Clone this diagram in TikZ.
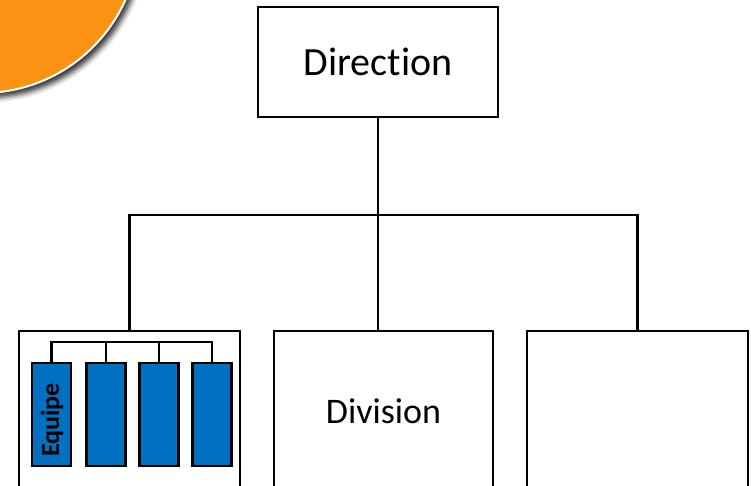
\documentclass[tikz,border=0pt]{standalone}
\usepackage{fontspec}
\setmainfont[Ligatures={NoCommon}]{Carlito}
\usetikzlibrary{shadows.blur}
\definecolor{orangec}{RGB}{250,146,20}
\definecolor{bluebar}{RGB}{0,112,192}
\begin{document}
\begin{tikzpicture}[x=1pt,y=-1pt,
  box/.style={draw=black,line width=2.3pt,fill=white,rectangle,inner sep=0pt,outer sep=0pt},
  bar/.style={draw=black,line width=2.3pt,fill=bluebar,rectangle,inner sep=0pt,outer sep=0pt,minimum width=39pt,minimum height=103pt},
  conn/.style={draw=black,line width=2.3pt}]
\useasboundingbox (0,0) rectangle (751,486);
\clip (0,0) rectangle (751,486);
% orange disc
\fill[orangec,draw=white,line width=2pt,blur shadow={shadow xshift=4pt,shadow yshift=-5pt,shadow blur radius=5pt,shadow opacity=80}] (-18,-64) circle (157);
% boxes
\node[box,minimum width=240pt,minimum height=110pt] (dir) at (378,62) {\fontsize{40}{48}\selectfont Direction};
\node[box,minimum width=221pt,minimum height=200pt] (lb) at (129.5,431) {};
\node[box,minimum width=219pt,minimum height=200pt] (mid) at (383.5,431) {};
\node[box,minimum width=221pt,minimum height=200pt] (rb) at (637.5,431) {};
\node (divt) at (383.5,411) {\fontsize{36}{43}\selectfont Division};
\coordinate (j) at (378,215);
\draw[conn] (dir.south) -- (dir.south |- mid.north);
\draw[conn] (lb.north) |- (j) -| (rb.north);
% teams
\node[bar] (e1) at (51.5,414.5) {};
\node[bar] (e2) at (106,414.5) {};
\node[bar] (e3) at (159,414.5) {};
\node[bar] (e4) at (212,414.5) {};
\node[rotate=90,inner sep=0pt] (eqt) at (52,420) {\fontsize{26}{31}\selectfont\bfseries Equipe};
\coordinate (tb) at (130,342);
\draw[conn] (e1.north) |- (tb) -| (e4.north);
\draw[conn] (e2.north) -- (e2.north |- tb);
\draw[conn] (e3.north) -- (e3.north |- tb);
\end{tikzpicture}
\end{document}
